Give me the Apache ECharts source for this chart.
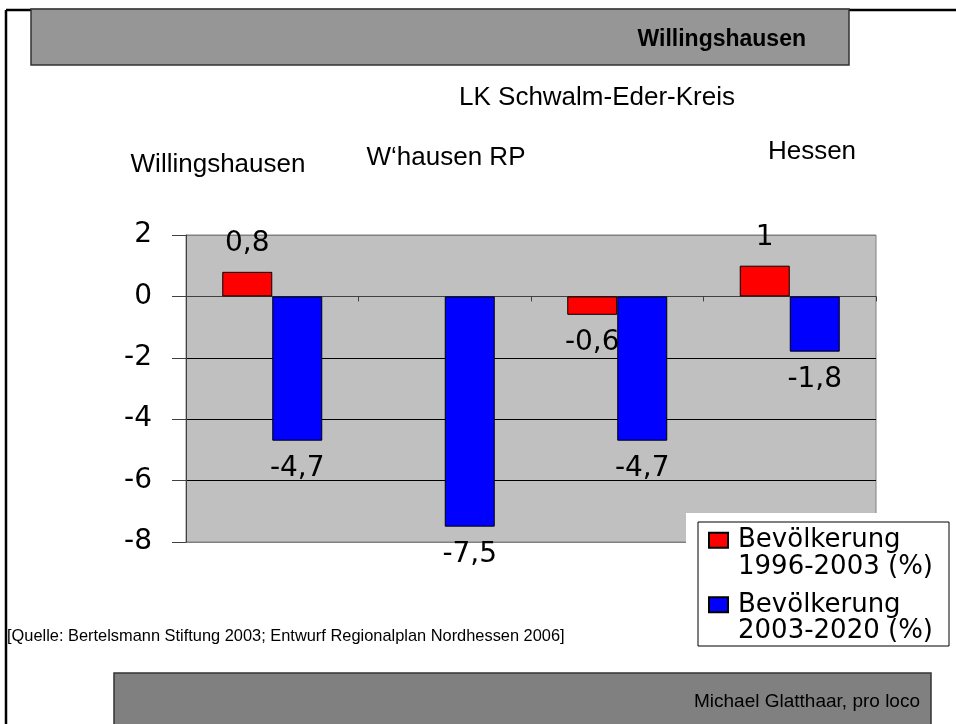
<!DOCTYPE html>
<html>
<head>
<meta charset="utf-8">
<script src="https://cdn.jsdelivr.net/npm/echarts@6/dist/echarts.min.js"></script>
<style>html,body{margin:0;padding:0;background:#fff;}#c{width:956px;height:724px;}</style>
</head>
<body>
<div id="c"></div>
<script>
const categories = ['Willingshausen', 'W\u2018hausen RP', 'LK Schwalm-Eder-Kreis', 'Hessen'];
const seriesNames = ['Bevölkerung\n1996-2003 (%)', 'Bevölkerung\n2003-2020 (%)'];
const pop1996_2003 = [0.8, null, -0.6, 1];
const pop2003_2020 = [-4.7, -7.5, -4.7, -1.8];
const yTicks = [-8, -6, -4, -2, 0, 2];
const headerTitle = 'Willingshausen';
const sourceText = '[Quelle: Bertelsmann Stiftung 2003; Entwurf Regionalplan Nordhessen 2006]';
const footerText = 'Michael Glatthaar, pro loco';

// layout for category labels above plot (positions only)
const catLabelPos = [[218, 165], [446, 158], [597, 98], [812, 152]];

const chart = echarts.init(document.getElementById('c'), null, {renderer: 'canvas'});
const numFmt = v => String(v).replace('.', ',');
const NUMFONT = 'DejaVu Sans';
const TXTFONT = 'Liberation Sans, Arial, sans-serif';

function toData(arr) {
  return arr.map(v => v == null ? null : {
    value: v,
    label: {position: v >= 0 ? 'top' : 'bottom'}
  });
}

const graphics = [
  // outer frame
  {type: 'line', shape: {x1: 6, y1: 10, x2: 956, y2: 10}, style: {stroke: '#000', lineWidth: 2.5}, z: 30},
  {type: 'line', shape: {x1: 6, y1: 10, x2: 6, y2: 724}, style: {stroke: '#000', lineWidth: 2.5}, z: 30},
  // header
  {type: 'rect', shape: {x: 31, y: 9, width: 818, height: 56}, style: {fill: '#969696', stroke: '#333', lineWidth: 1.5}, z: 31},
  {type: 'text', x: 806, y: 40, style: {text: headerTitle, font: 'bold 23px ' + TXTFONT, fill: '#000', align: 'right', verticalAlign: 'middle'}, z: 32},
  // white legend area covering plot corner
  {type: 'rect', shape: {x: 686, y: 513, width: 270, height: 140}, style: {fill: '#fff'}, z: 10},
  {type: 'rect', shape: {x: 698, y: 522, width: 251, height: 124}, style: {fill: 'none', stroke: '#000', lineWidth: 1}, z: 11},
  // source
  {type: 'text', x: 7, y: 636, style: {text: sourceText, font: '16.4px ' + TXTFONT, fill: '#000', align: 'left', verticalAlign: 'middle'}, z: 12},
  // footer
  {type: 'rect', shape: {x: 114, y: 673, width: 817, height: 60}, style: {fill: '#808080', stroke: '#333', lineWidth: 1.5}, z: 12},
  {type: 'text', x: 920, y: 702, style: {text: footerText, font: '19px ' + TXTFONT, fill: '#000', align: 'right', verticalAlign: 'middle'}, z: 13}
];
categories.forEach((c, i) => {
  graphics.push({type: 'text', x: catLabelPos[i][0], y: catLabelPos[i][1],
    style: {text: c, font: '26px ' + TXTFONT, fill: '#000', align: 'center', verticalAlign: 'middle'}, z: 12});
});

const barLabel = {
  show: true, distance: 14, color: '#000', fontFamily: NUMFONT, fontSize: 28,
  formatter: p => numFmt(p.value)
};

chart.setOption({
  animation: false,
  backgroundColor: '#fff',
  grid: {left: 186, right: 80, top: 235, bottom: 182, show: true, backgroundColor: '#c0c0c0', borderColor: '#808080', borderWidth: 1, containLabel: false},
  legend: {
    orient: 'vertical', left: 708, top: 500.5, padding: 0, itemGap: -15,
    itemWidth: 19, itemHeight: 15, icon: 'rect', z: 20,
    formatter: name => '\n' + name,
    textStyle: {fontFamily: NUMFONT, fontSize: 26, lineHeight: 26.5, color: '#000', padding: [0, 0, 0, 5]},
    data: seriesNames
  },
  xAxis: {
    type: 'category', data: categories,
    axisLine: {onZero: true, lineStyle: {color: '#404040', width: 1}},
    axisTick: {show: true, length: 5, lineStyle: {color: '#404040'}},
    axisLabel: {show: false},
    splitLine: {show: false}
  },
  yAxis: {
    type: 'value', min: yTicks[0], max: yTicks[yTicks.length - 1], interval: 2,
    axisLine: {show: true, lineStyle: {color: '#404040', width: 1}},
    axisTick: {show: true, length: 14, lineStyle: {color: '#404040'}},
    axisLabel: {color: '#000', fontFamily: NUMFONT, fontSize: 28, margin: 34},
    splitLine: {show: true, lineStyle: {color: ['#808080', '#000', '#000', '#000', '#000', '#808080'], width: 1}}
  },
  series: [
    {name: seriesNames[0], type: 'bar', data: toData(pop1996_2003), barWidth: 50, barGap: '0%',
      itemStyle: {color: '#ff0000', borderColor: '#000', borderWidth: 1}, label: barLabel},
    {name: seriesNames[1], type: 'bar', data: toData(pop2003_2020), barWidth: 50, barGap: '0%',
      itemStyle: {color: '#0000ff', borderColor: '#000', borderWidth: 1}, label: barLabel}
  ],
  graphic: graphics
});
</script>
</body>
</html>
